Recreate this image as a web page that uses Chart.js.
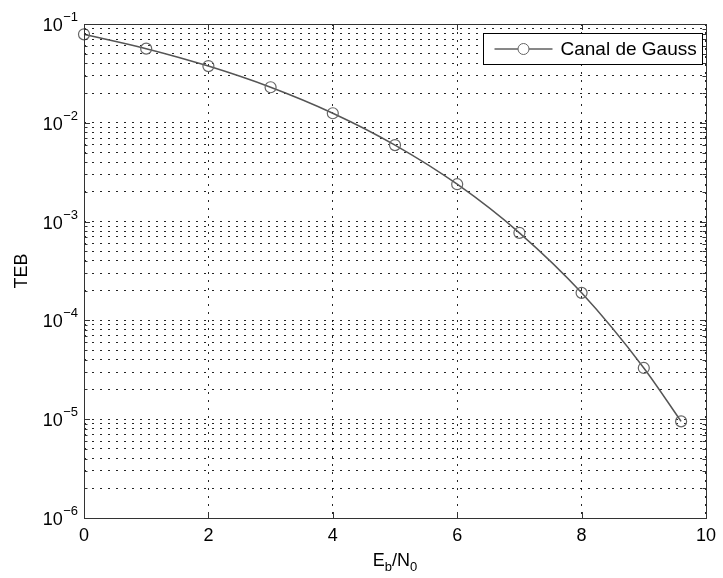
<!DOCTYPE html>
<html>
<head>
<meta charset="utf-8">
<script src="https://cdn.jsdelivr.net/npm/chart.js@4.4.1/dist/chart.umd.min.js"></script>
<style>
  html, body { margin: 0; padding: 0; background: #fff; }
  #wrap { width: 723px; height: 578px; }
</style>
</head>
<body>
<div id="wrap"><canvas id="chart" width="723" height="578"></canvas></div>
<script>
// data
const ebn0 = [0, 1, 2, 3, 4, 5, 6, 7, 8, 9, 9.6];
const teb = [7.86e-2, 5.63e-2, 3.75e-2, 2.29e-2, 1.25e-2, 5.95e-3, 2.39e-3, 7.7e-4, 1.9e-4, 3.3e-5, 9.5e-6];
const seriesLabel = 'Canal de Gauss';
const xTicks = [0, 2, 4, 6, 8, 10];
const yExponents = [-6, -5, -4, -3, -2, -1];
const yTitle = 'TEB';

const FONT = '"Liberation Sans", Arial, Helvetica, sans-serif';

// log ticks: 1..9 in each decade, major on 1
function logTicks () {
    let ticks = [];
    for (let e = yExponents[0]; e < yExponents[yExponents.length - 1]; e++) {
        for (let s = 1; s <= 9; s++) {
            ticks.push({ value: s * Math.pow(10, e), major: s === 1 });
        }
    }
    ticks.push({ value: Math.pow(10, yExponents[yExponents.length - 1]), major: true });
    return ticks;
}

const matlabAxes = {
    id: 'matlabAxes',
    afterDraw (chart) {
        const ctx = chart.ctx;
        const area = chart.chartArea;
        const xs = chart.scales.x;
        const ys = chart.scales.y;

        ctx.save();
        ctx.strokeStyle = '#333';
        ctx.lineWidth = 1;

        // inner tick marks
        ctx.beginPath();
        xs.ticks.forEach(t => {
            const px = Math.round(xs.getPixelForValue(t.value)) + 0.5;
            ctx.moveTo(px, area.bottom);
            ctx.lineTo(px, area.bottom - 6);
            ctx.moveTo(px, area.top);
            ctx.lineTo(px, area.top + 6);
        });
        ys.ticks.forEach(t => {
            const py = Math.round(ys.getPixelForValue(t.value)) + 0.5;
            const len = t.major ? 6 : 3.5;
            ctx.moveTo(area.left, py);
            ctx.lineTo(area.left + len, py);
            ctx.moveTo(area.right, py);
            ctx.lineTo(area.right - len, py);
        });
        ctx.stroke();

        // box
        ctx.strokeRect(Math.round(area.left) + 0.5, Math.round(area.top) + 0.5,
            Math.round(area.right - area.left), Math.round(area.bottom - area.top));

        // y tick labels 10^n
        ctx.fillStyle = '#000';
        ctx.textBaseline = 'alphabetic';
        yExponents.forEach(e => {
            const py = ys.getPixelForValue(Math.pow(10, e));
            const expText = '\u2212' + Math.abs(e);
            ctx.font = '13px ' + FONT;
            const ew = ctx.measureText(expText).width;
            ctx.textAlign = 'right';
            ctx.fillText(expText, area.left - 6, py - 3);
            ctx.font = '18px ' + FONT;
            ctx.fillText('10', area.left - 6 - ew - 0.5, py + 7);
        });

        // x title E_b/N_0
        const parts = [['E', 18, 0], ['b', 13, 5], ['/N', 18, 0], ['0', 13, 5]];
        let total = 0;
        parts.forEach(p => { ctx.font = p[1] + 'px ' + FONT; total += ctx.measureText(p[0]).width; });
        let cx = (area.left + area.right) / 2 - total / 2;
        ctx.textAlign = 'left';
        parts.forEach(p => {
            ctx.font = p[1] + 'px ' + FONT;
            ctx.fillText(p[0], cx, 566 + p[2]);
            cx += ctx.measureText(p[0]).width;
        });

        // y title
        ctx.save();
        ctx.translate(22, (area.top + area.bottom) / 2);
        ctx.rotate(-Math.PI / 2);
        ctx.font = '18px ' + FONT;
        ctx.textAlign = 'center';
        ctx.textBaseline = 'middle';
        ctx.fillText(yTitle, 0, 0);
        ctx.restore();

        // legend
        const lx = 483.5, ly = 33.5, lw = 219, lh = 31;
        ctx.fillStyle = '#fff';
        ctx.fillRect(lx, ly, lw, lh);
        ctx.strokeStyle = '#000';
        ctx.strokeRect(lx, ly, lw, lh);
        const my = ly + lh / 2;
        ctx.strokeStyle = '#111';
        ctx.beginPath();
        ctx.moveTo(lx + 11, my);
        ctx.lineTo(lx + 69, my);
        ctx.stroke();
        ctx.fillStyle = '#fff';
        ctx.strokeStyle = '#666';
        ctx.beginPath();
        ctx.arc(lx + 40, my, 5.5, 0, Math.PI * 2);
        ctx.fill();
        ctx.stroke();
        ctx.fillStyle = '#000';
        ctx.font = '19px ' + FONT;
        ctx.textAlign = 'left';
        ctx.textBaseline = 'middle';
        ctx.fillText(chart.data.datasets[0].label, lx + 77, my + 1);

        ctx.restore();
    }
};

const gridStyle = {
    color: 'rgba(0,0,0,0.85)',
    lineWidth: 1,
    drawTicks: false
};

new Chart(document.getElementById('chart'), {
    type: 'line',
    data: {
        datasets: [{
            label: seriesLabel,
            data: ebn0.map((x, i) => ({ x: x, y: teb[i] })),
            borderColor: '#555',
            borderWidth: 1.5,
            pointStyle: 'circle',
            pointRadius: 5.5,
            pointBorderWidth: 1.2,
            pointBorderColor: '#666',
            pointBackgroundColor: 'rgba(0,0,0,0)',
            cubicInterpolationMode: 'monotone',
            clip: false
        }]
    },
    options: {
        responsive: false,
        animation: false,
        devicePixelRatio: 1,
        layout: { padding: { top: 24, right: 11, left: 0, bottom: 0 } },
        plugins: {
            legend: { display: false },
            tooltip: { enabled: false }
        },
        scales: {
            x: {
                type: 'linear',
                min: 0,
                max: 10,
                afterBuildTicks: scale => { scale.ticks = xTicks.map(v => ({ value: v })); },
                afterFit: scale => { scale.height = 60; },
                grid: gridStyle,
                border: { display: false, dash: [2, 6] },
                ticks: {
                    color: '#000',
                    font: { family: FONT, size: 18 },
                    padding: 7,
                    maxRotation: 0,
                    autoSkip: false
                }
            },
            y: {
                type: 'logarithmic',
                min: Math.pow(10, yExponents[0]),
                max: Math.pow(10, yExponents[yExponents.length - 1]),
                afterBuildTicks: scale => { scale.ticks = logTicks(); },
                afterFit: scale => { scale.width = 84; },
                grid: gridStyle,
                border: { display: false, dash: [2, 6] },
                ticks: { display: false }
            }
        }
    },
    plugins: [matlabAxes]
});
</script>
</body>
</html>
